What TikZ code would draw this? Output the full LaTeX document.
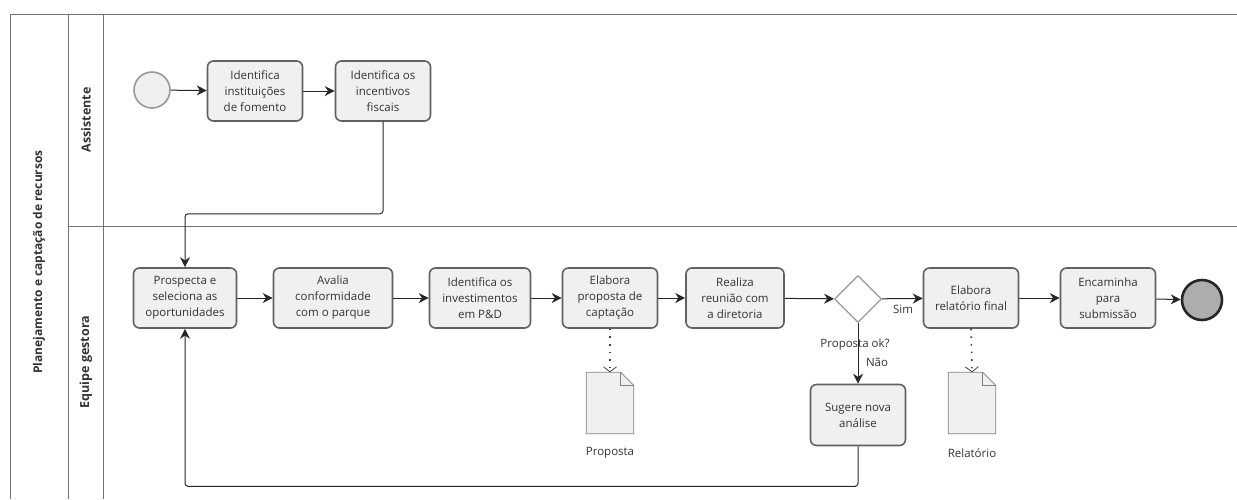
\documentclass[tikz,border=0pt]{standalone}
\usepackage{fontspec}
\setmainfont{Open Sans}
\usetikzlibrary{arrows.meta,shapes.geometric,calc}

\begin{document}
\begin{tikzpicture}[x=1pt, y=-1pt, line join=round,
  every node/.style={font=\fontsize{11.5}{16}\selectfont, text=black!80},
  lane/.style={draw=black!55, line width=0.8pt},
  lanelabel/.style={rotate=90, font=\fontsize{12.5}{14}\selectfont\bfseries},
  task/.style={draw=black!62, fill=black!6, line width=1.6pt, rounded corners=6pt, minimum width=95pt, minimum height=60pt, align=center, inner sep=2pt},
  gate/.style={diamond, draw=black!40, fill=white, line width=1.3pt, minimum size=47pt, inner sep=0pt},
  flow/.style={draw=black!85, line width=1pt, rounded corners=3pt, -{Stealth[length=10pt,width=10pt]}},
  assoc/.style={draw=black!75, line width=1.6pt, dash pattern=on 1.6pt off 6pt, -{Straight Barb[length=5pt,width=13pt,line width=0.8pt]}},
  docbox/.style={minimum width=47pt, minimum height=61pt, inner sep=0pt},
  docline/.style={draw=black!50, fill=black!6, line width=0.8pt}]
\useasboundingbox (0,0) rectangle (1237,499);

\draw[lane] (10,499) -- (10,14) -- (1237,14);
\draw[lane] (68,14) -- (68,499) (103,14) -- (103,499) (68,226) -- (1237,226);
\node[lanelabel, font=\fontsize{12}{14}\selectfont\bfseries] (pool) at (39,262) {Planejamento e captação de recursos};
\node[lanelabel] (laneA) at (86,120) {Assistente};
\node[lanelabel] (laneE) at (86,362) {Equipe gestora};

\node[circle, draw=black!40, fill=black!6, line width=1.6pt, minimum size=36pt] (S) at (152,90) {};
\node[task] (T1) at (255,91) {Identifica\\instituições\\de fomento};
\node[task] (T2) at (383,91) {Identifica os\\incentivos\\fiscais};

\node[task, minimum width=103pt] (P1) at (185,298) {Prospecta e\\seleciona as\\oportunidades};
\node[task, minimum width=119pt] (P2) at (333,298) {Avalia\\conformidade\\com o parque};
\node[task, minimum width=101pt] (P3) at (480,298) {Identifica os\\investimentos\\em P\&D};
\node[task] (P4) at (610,298) {Elabora\\proposta de\\captação};
\node[task, minimum width=98pt] (P5) at (735,298) {Realiza\\reunião com\\a diretoria};
\node[gate] (G) at (858,299) {};
\node[task] (P6) at (971,298) {Elabora\\relatório final};
\node[task] (P7) at (1108,298) {Encaminha\\para\\submissão};
\node[circle, draw=black!85, fill=black!32, line width=2.6pt, minimum size=40pt] (E) at (1202,300) {};
\node[task, minimum height=61pt] (Q) at (858,415) {Sugere nova\\análise};

\node (Gq) at (855,345) {Proposta ok?};
\node (Gn) at (877,362) {Não};
\node (Gs) at (903,309) {Sim};

\node[docbox] (D1) at (610,403) {};
\node[docbox] (D2) at (972,403) {};
\foreach \d in {D1,D2}{
  \draw[docline] (\d.north west) -- ($(\d.north east)+(-13,0)$) -- ($(\d.north east)+(0,13)$) -- (\d.south east) -- (\d.south west) -- cycle;
  \draw[docline, fill=none] ($(\d.north east)+(-13,0)$) |- ($(\d.north east)+(0,13)$);
}
\node (D1l) at (610,453) {Proposta};
\node (D2l) at (972,453) {Relatório};

\draw[flow] (S) -- (T1);
\draw[flow] (T1) -- (T2);
\draw[flow] (T2.south) -- ++(0,92) -| (P1.north);
\draw[flow] (P1) -- (P2);
\draw[flow] (P2) -- (P3);
\draw[flow] (P3) -- (P4);
\draw[flow] (P4) -- (P5);
\draw[flow] (P5) -- (G);
\draw[flow] (G) -- (P6);
\draw[flow] (P6) -- (P7);
\draw[flow] (P7) -- (E);
\draw[flow] (G) -- (Q);
\draw[flow] (Q.south) -- ++(0,40) -| (P1.south);
\draw[assoc] (P4.south) -- (D1.north);
\draw[assoc] (P6.south) -- (D2.north);
\end{tikzpicture}
\end{document}
